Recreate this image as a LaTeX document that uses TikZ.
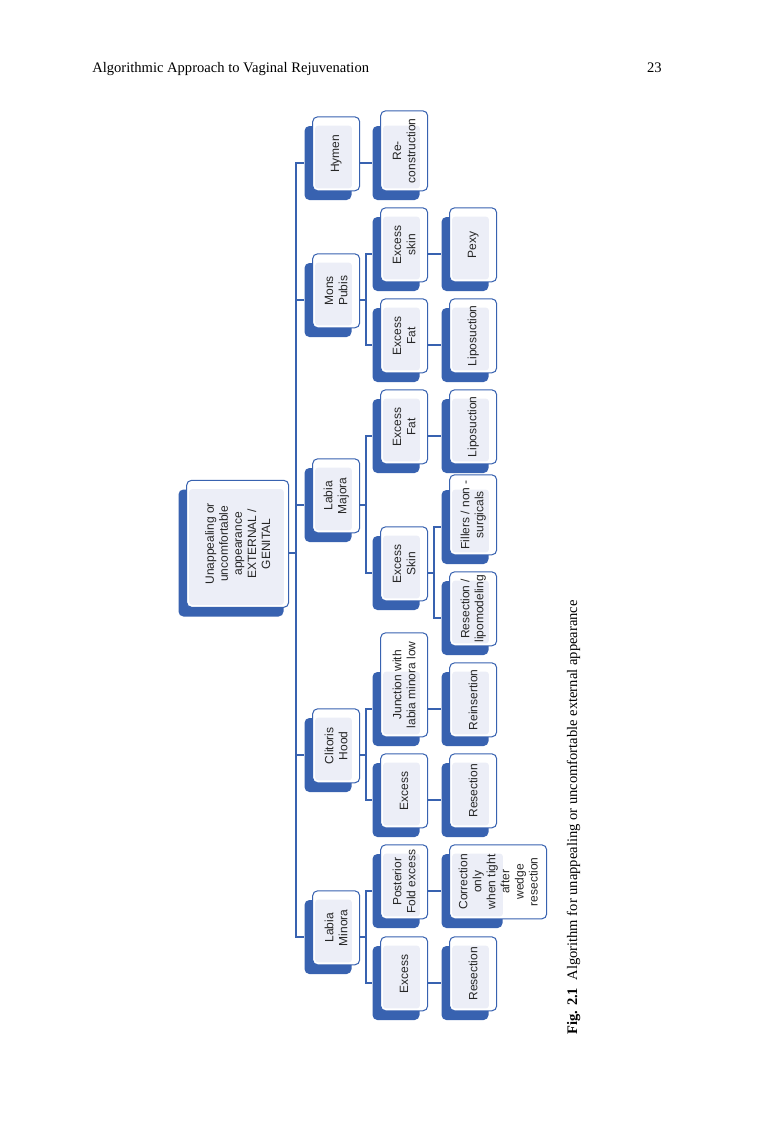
\documentclass[tikz,border=0pt]{standalone}
\usepackage{fontspec}
\setmainfont{Liberation Serif}
\newfontfamily\arialfont{Liberation Sans}
\usepackage{tikz}
\usetikzlibrary{positioning,backgrounds}

\definecolor{smblue}{RGB}{56,98,176}
\definecolor{smlight}{RGB}{236,238,247}
\newlength\pxu
\setlength\pxu{0.2051mm}

% one box: shadow (named, used by the lines), front box, light inner part, text
\newcommand{\smartbox}[5][]{%
	\node[shadowbox] (#2) at (#3,#4) {};
	\node[frontbox, anchor=south west, #1] (#2f) at ([shift={(8,-9)}]#2.south west) {};
	\fill[innerfill] ([xshift=3\pxu]#2f.west |- #2.north) rectangle ([yshift=3\pxu]#2.east |- #2f.south);
	\node[boxtext] at (#2f.center) {#5};
}

\begin{document}
\begin{tikzpicture}[
				x=\pxu, y=-\pxu,
				shadowbox/.style={rectangle, rounded corners=1mm, fill=smblue, inner sep=0, minimum width=47\pxu, minimum height=74\pxu},
				frontbox/.style={rectangle, rounded corners=1mm, fill=white, draw=smblue, line width=0.6pt, inner sep=0, minimum width=47\pxu, minimum height=74\pxu},
				innerfill/.style={fill=smlight, rounded corners=0.6mm},
				boxtext/.style={rotate=90, align=center, inner sep=0, text=black!85, font=\arialfont\fontsize{7}{8.2}\selectfont},
				link/.style={draw=smblue, line width=0.7pt},
				trunk/.style={draw=smblue, line width=1.1pt},
				pagetext/.style={inner sep=0, font=\fontsize{8.5}{10}\selectfont},
				]
		\useasboundingbox (0,0) rectangle (756,1146);

		%Page head and caption
		\node[pagetext, anchor=base west] (head) at (92,72.5) {Algorithmic Approach to Vaginal Rejuvenation};
		\node[pagetext, anchor=base east] (pageno) at (662,72.5) {23};
		\node[pagetext, rotate=90, anchor=base west] (caption) at (577,1035) {\textbf{Fig. 2.1}\enspace Algorithm for unappealing or uncomfortable external appearance};

		%Root
		\begin{scope}[shadowbox/.append style={minimum width=105\pxu, minimum height=127\pxu}]
			\smartbox[minimum width=102\pxu, minimum height=127\pxu]{root}{231}{553}{Unappealing or\\uncomfortable\\appearance\\EXTERNAL /\\GENITAL}
		\end{scope}

		%Hymen
		\smartbox{hymen}{328}{163}{Hymen}
		\smartbox[minimum height=80\pxu]{recon}{396}{163}{Re-\\construction}

		%Mons Pubis
		\smartbox{mons}{328}{300}{Mons\\Pubis}
		\smartbox{mexskin}{396}{254}{Excess\\skin}
		\smartbox{mexfat}{396}{345}{Excess\\Fat}
		\smartbox{pexy}{465}{254}{Pexy}
		\smartbox{mlipo}{465}{345}{Liposuction}

		%Labia Majora
		\smartbox{lmaj}{328}{505}{Labia\\Majora}
		\smartbox{jexfat}{396}{436}{Excess\\Fat}
		\smartbox{jlipo}{465}{436}{Liposuction}
		\smartbox{jexskin}{396}{573}{Excess\\Skin}
		\smartbox[minimum height=80\pxu]{fillers}{465}{527}{Fillers / non -\\surgicals}
		\smartbox{reslipo}{465}{618}{Resection /\\lipomodeling}

		%Clitoris Hood
		\smartbox{chood}{328}{755}{Clitoris\\Hood}
		\smartbox[minimum height=104\pxu]{junction}{396}{709}{Junction with\\labia minora low}
		\smartbox{cexcess}{396}{800}{Excess}
		\smartbox{reins}{465}{709}{Reinsertion}
		\smartbox{cresec}{465}{800}{Resection}

		%Labia Minora
		\smartbox{lmin}{328}{937}{Labia\\Minora}
		\smartbox{posterior}{396}{891}{Posterior\\Fold excess}
		\smartbox{lexcess}{396}{983}{Excess}
		\begin{scope}[shadowbox/.append style={minimum width=61\pxu}]
			\smartbox[minimum width=97\pxu]{correction}{472}{891}{Correction\\only\\when tight\\after\\wedge\\resection}
		\end{scope}
		\smartbox{lresec}{465}{983}{Resection}

		%Lines
		\begin{pgfonlayer}{background}
			\fill[white] (0,0) rectangle (756,1146);
			\foreach \n in {hymen,mons,lmaj,chood,lmin}
				\draw[trunk] (root) -- ++(65,0) |- (\n);
			\draw[link] (hymen) -- (recon);
			\foreach \n in {mexskin,mexfat}
				\draw[link] (mons) -- ++(38,0) |- (\n);
			\draw[link] (mexskin) -- (pexy);
			\draw[link] (mexfat) -- (mlipo);
			\foreach \n in {jexfat,jexskin}
				\draw[link] (lmaj) -- ++(38,0) |- (\n);
			\draw[link] (jexfat) -- (jlipo);
			\foreach \n in {fillers,reslipo}
				\draw[link] (jexskin) -- ++(38,0) |- (\n);
			\foreach \n in {junction,cexcess}
				\draw[link] (chood) -- ++(38,0) |- (\n);
			\draw[link] (junction) -- (reins);
			\draw[link] (cexcess) -- (cresec);
			\foreach \n in {posterior,lexcess}
				\draw[link] (lmin) -- ++(38,0) |- (\n);
			\draw[link] (posterior) -- (correction);
			\draw[link] (lexcess) -- (lresec);
		\end{pgfonlayer}
\end{tikzpicture}
\end{document}
